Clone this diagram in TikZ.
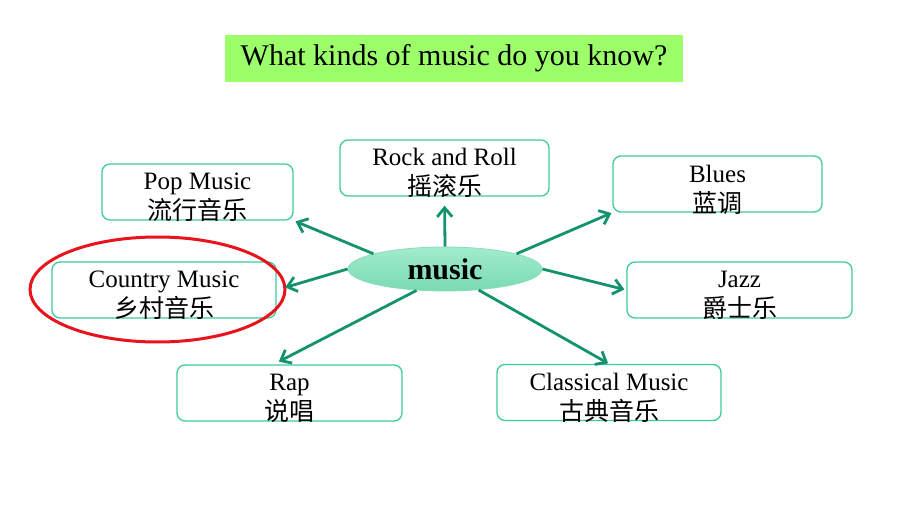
\documentclass[tikz,border=0pt]{standalone}
\usepackage{fontspec}
\setmainfont{Liberation Serif}
\newfontfamily\cjk{Noto Sans CJK SC}
\usetikzlibrary{arrows.meta,calc,shapes.geometric}
\definecolor{titlegreen}{HTML}{9CFF6A}
\definecolor{boxteal}{HTML}{3ECB9E}
\definecolor{arrowgreen}{HTML}{13936C}
\definecolor{elltop}{HTML}{A2ECCC}
\definecolor{ellbot}{HTML}{78DAB3}
\definecolor{ellborder}{HTML}{8ADDBB}
\definecolor{circred}{HTML}{E8141B}
\newcommand{\boxtext}[2]{\rule{0pt}{28pt}#1\\{\cjk #2}}
\begin{document}
\begin{tikzpicture}[x=1pt,y=-1pt,
  musicbox/.style={draw=boxteal, line width=1.3pt, rounded corners=8pt,
    minimum width=#1, minimum height=56pt, inner xsep=0pt, inner ysep=-4pt, align=center,
    font=\fontsize{25}{30}\selectfont},
  link/.style={draw=arrowgreen, line width=2.8pt,
    -{Straight Barb[length=9pt,width=15pt]}}]
\useasboundingbox (0,0) rectangle (920,518);
\fill[white] (0,0) rectangle (920,518);

\node[fill=titlegreen, minimum width=458pt, minimum height=47pt, inner sep=0pt,
  font=\fontsize{30}{34}\selectfont] (title) at (454,58.5) {What kinds of music do you know?};

\node[ellipse, draw=ellborder, line width=0.8pt, top color=elltop, bottom color=ellbot,
  minimum width=194pt, minimum height=44pt, inner sep=0pt,
  font=\fontsize{30}{34}\selectfont\bfseries] (m) at (445,269) {music};

\node[musicbox=209pt] (rock) at (444.5,168) {\boxtext{Rock and Roll}{摇滚乐}};
\node[musicbox=191pt] (pop) at (197.5,192) {\boxtext{Pop Music}{流行音乐}};
\node[musicbox=209pt] (blues) at (717.5,184) {\boxtext{Blues}{蓝调}};
\node[musicbox=224pt] (country) at (164,290) {\boxtext{Country Music}{乡村音乐}};
\node[musicbox=225pt] (jazz) at (739.5,290) {\boxtext{Jazz}{爵士乐}};
\node[musicbox=225pt] (rap) at (289.5,393) {\boxtext{Rap}{说唱}};
\node[musicbox=224pt] (classical) at (609,392.5) {\boxtext{Classical Music}{古典音乐}};

\node[ellipse, draw=circred, line width=3pt, minimum width=255pt, minimum height=105pt,
  inner sep=0pt] (circle) at (157.5,289.5) {};

\draw[link, shorten >=9pt] (m.north) -- (rock.south);
\draw[link, shorten >=2pt] (m.168) -- (pop.south east);
\draw[link, shorten >=1pt] (m.12) -- (blues.south west);
\draw[link, shorten >=9pt] (m.180) -- (country.east);
\draw[link, shorten >=2pt] (m.0) -- (jazz.west);
\draw[link, shorten >=6pt] (m.217) -- ($(rap.north)+(-16,0)$);
\draw[link, shorten >=1pt] (m.328) -- (classical.north);
\end{tikzpicture}
\end{document}
